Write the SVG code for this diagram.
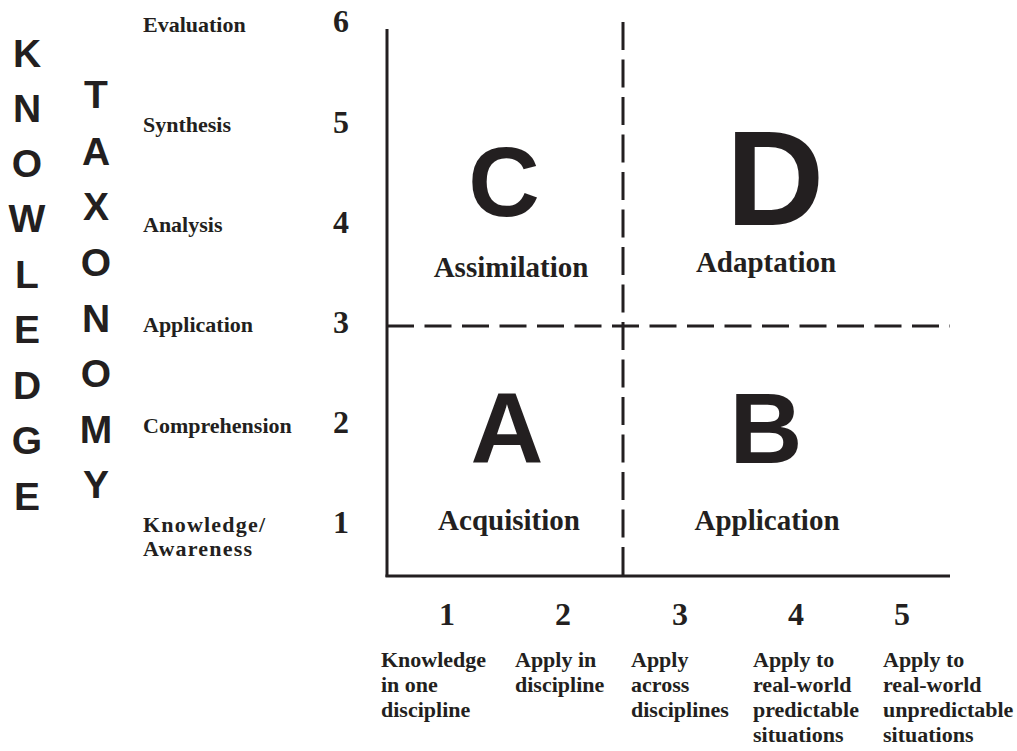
<svg xmlns="http://www.w3.org/2000/svg" width="1017" height="751" viewBox="0 0 1017 751">
<style>
.big{font-family:"Liberation Sans",Arial,sans-serif;font-weight:bold;fill:#231f20;text-anchor:middle}
.side{font-family:"Liberation Sans",Arial,sans-serif;font-weight:bold;fill:#231f20;text-anchor:middle;font-size:39px}
.lab{font-family:"Liberation Serif","Times New Roman",serif;font-weight:bold;fill:#231f20;font-size:22px}
.num{font-family:"Liberation Serif","Times New Roman",serif;font-weight:bold;fill:#231f20;font-size:32px}
.ql{font-family:"Liberation Serif","Times New Roman",serif;font-weight:bold;fill:#231f20;font-size:29px;text-anchor:middle}
.axis{stroke:#231f20;stroke-width:3;fill:none}
.dash{stroke:#231f20;stroke-width:3;fill:none;stroke-dasharray:28 9.5}
</style>
<rect width="1017" height="751" fill="#ffffff"/>
<g id="title-knowledge">
<text class="side" x="27" y="67">K</text>
<text class="side" x="27" y="122">N</text>
<text class="side" x="27" y="177">O</text>
<text class="side" x="27" y="232">W</text>
<text class="side" x="27" y="288">L</text>
<text class="side" x="27" y="343">E</text>
<text class="side" x="27" y="399">D</text>
<text class="side" x="27" y="454">G</text>
<text class="side" x="27" y="510">E</text>
</g>
<g id="title-taxonomy">
<text class="side" x="96" y="108">T</text>
<text class="side" x="96" y="165">A</text>
<text class="side" x="96" y="220">X</text>
<text class="side" x="96" y="276">O</text>
<text class="side" x="96" y="332">N</text>
<text class="side" x="96" y="387">O</text>
<text class="side" x="96" y="443">M</text>
<text class="side" x="96" y="498">Y</text>
</g>
<g id="y-labels">
<text class="lab" x="143" y="32">Evaluation</text>
<text class="lab" x="143" y="132">Synthesis</text>
<text class="lab" x="143" y="232">Analysis</text>
<text class="lab" x="143" y="332">Application</text>
<text class="lab" x="143" y="433">Comprehension</text>
<text class="lab" x="143" y="532" letter-spacing="1.2">Knowledge/</text>
<text class="lab" x="143" y="556" letter-spacing="1.2">Awareness</text>
</g>
<g id="y-numbers">
<text class="num" x="333" y="32">6</text>
<text class="num" x="333" y="133">5</text>
<text class="num" x="333" y="233">4</text>
<text class="num" x="333" y="333">3</text>
<text class="num" x="333" y="433">2</text>
<text class="num" x="333" y="533">1</text>
</g>
<g id="connectors">
<line class="axis" x1="387" y1="29" x2="387" y2="577"/>
<line class="axis" x1="385.5" y1="576" x2="950" y2="576"/>
<line class="dash" x1="623" y1="22" x2="623" y2="576"/>
<line class="dash" x1="387" y1="326" x2="950" y2="326" style="stroke-dasharray:27 10.5"/>
</g>
<g id="quadrant-C">
<text class="big" x="504" y="216" font-size="99">C</text>
<text class="ql" x="511" y="277">Assimilation</text>
</g>
<g id="quadrant-D">
<text class="big" x="775" y="225" font-size="136">D</text>
<text class="ql" x="766" y="272">Adaptation</text>
</g>
<g id="quadrant-A">
<text class="big" x="507" y="463" font-size="101">A</text>
<text class="ql" x="509" y="530">Acquisition</text>
</g>
<g id="quadrant-B">
<text class="big" x="766" y="463" font-size="101">B</text>
<text class="ql" x="767" y="530">Application</text>
</g>
<g id="x-numbers" text-anchor="middle">
<text class="num" x="447" y="625" text-anchor="middle">1</text>
<text class="num" x="563" y="625" text-anchor="middle">2</text>
<text class="num" x="680" y="625" text-anchor="middle">3</text>
<text class="num" x="796" y="625" text-anchor="middle">4</text>
<text class="num" x="902" y="625" text-anchor="middle">5</text>
</g>
<g id="x-labels">
<text class="lab" x="381" y="667">Knowledge</text>
<text class="lab" x="381" y="692">in one</text>
<text class="lab" x="381" y="717">discipline</text>
<text class="lab" x="515" y="667">Apply in</text>
<text class="lab" x="515" y="692">discipline</text>
<text class="lab" x="631" y="667">Apply</text>
<text class="lab" x="631" y="692">across</text>
<text class="lab" x="631" y="717">disciplines</text>
<text class="lab" x="753" y="667">Apply to</text>
<text class="lab" x="753" y="692">real-world</text>
<text class="lab" x="753" y="717">predictable</text>
<text class="lab" x="753" y="742">situations</text>
<text class="lab" x="883" y="667">Apply to</text>
<text class="lab" x="883" y="692">real-world</text>
<text class="lab" x="883" y="717">unpredictable</text>
<text class="lab" x="883" y="742">situations</text>
</g>
</svg>
